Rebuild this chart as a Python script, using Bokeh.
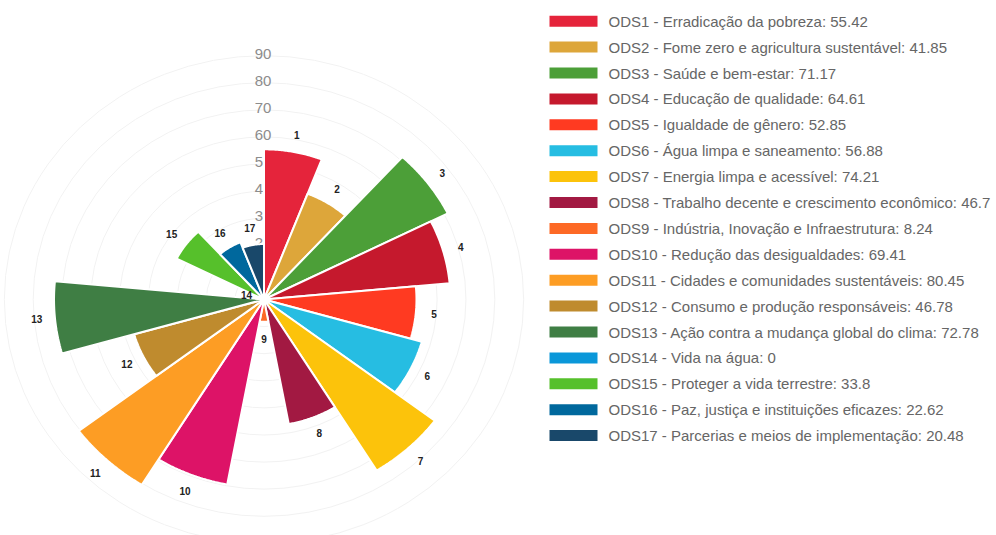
import numpy as np
from bokeh.plotting import figure
from bokeh.models import Range1d, ColumnDataSource
from bokeh.core.properties import value
from bokeh.embed import file_html
from bokeh.resources import INLINE

# ---------------- data ----------------
ods_numbers = ["1", "2", "3", "4", "5", "6", "7", "8", "9", "10",
               "11", "12", "13", "14", "15", "16", "17"]
ods_names = [
    "Erradicação da pobreza",
    "Fome zero e agricultura sustentável",
    "Saúde e bem-estar",
    "Educação de qualidade",
    "Igualdade de gênero",
    "Água limpa e saneamento",
    "Energia limpa e acessível",
    "Trabalho decente e crescimento econômico",
    "Indústria, Inovação e Infraestrutura",
    "Redução das desigualdades",
    "Cidades e comunidades sustentáveis",
    "Consumo e produção responsáveis",
    "Ação contra a mudança global do clima",
    "Vida na água",
    "Proteger a vida terrestre",
    "Paz, justiça e instituições eficazes",
    "Parcerias e meios de implementação",
]
ods_values = [55.42, 41.85, 71.17, 64.61, 52.85, 56.88, 74.21, 46.7, 8.24,
              69.41, 80.45, 46.78, 72.78, 0, 33.8, 22.62, 20.48]
ods_colors = ["#E5243B", "#DDA63A", "#4C9F38", "#C5192D", "#FF3A21",
              "#26BDE2", "#FCC30B", "#A21942", "#FD6925", "#DD1367",
              "#FD9D24", "#BF8B2E", "#3F7E44", "#0A97D9", "#56C02B",
              "#00689D", "#19486A"]
radial_ticks = [10, 20, 30, 40, 50, 60, 70, 80, 90]

# ---------------- layout constants (pixels) ----------------
W, H = 996, 535
CX, CY = 263.5, 299.0      # centre of the polar chart (px)
KX, KY = 2.885, 2.71       # px per value unit, horizontally / vertically
LABEL_OFFSET = 6.3         # value units beyond the wedge end
TICK_LABEL_DX, TICK_LABEL_DY = -1.0, 2.0   # px
LEG_SW_X, LEG_TXT_X = 573, 608
LEG_Y0, LEG_DY = 20.7, 25.9

x_range = Range1d((0 - CX) / KX, (W - CX) / KX)
y_range = Range1d(-(H - CY) / KY, CY / KY)

p = figure(width=W, height=H, x_range=x_range, y_range=y_range,
           output_backend="svg", toolbar_location=None,
           x_axis_type=None, y_axis_type=None, min_border=0,
           outline_line_color=None, background_fill_color="white",
           border_fill_color="white")
p.xgrid.visible = False
p.ygrid.visible = False

# grid circles (very faint)
p.ellipse(x=0, y=0, width=[2 * t for t in radial_ticks],
          height=[2 * t for t in radial_ticks],
          fill_color=None, line_color="#f2f2f2", line_width=1)

# radial tick labels
p.text(x=[TICK_LABEL_DX / KX] * len(radial_ticks),
       y=[t + TICK_LABEL_DY / KY for t in radial_ticks],
       text=[str(t) for t in radial_ticks],
       text_align="center", text_baseline="middle",
       text_font=value("Liberation Sans"), text_font_size="15px",
       text_color="#8c8c8c")

# wedges
n = len(ods_values)
step = 2 * np.pi / n
xs, ys, mids = [], [], []
for i, v in enumerate(ods_values):
    th = np.linspace(i * step, (i + 1) * step, 48)
    xs.append([0.0] + list(v * np.sin(th)))
    ys.append([0.0] + list(v * np.cos(th)))
    mids.append((i + 0.5) * step)

src = ColumnDataSource(dict(xs=xs, ys=ys, color=ods_colors))
p.patches("xs", "ys", source=src, fill_color="color", line_color="white",
          line_width=2)
p.scatter(x=[0], y=[0], size=9, color="white", line_color=None)

# wedge number labels
lx = [(v + LABEL_OFFSET) * np.sin(m) for v, m in zip(ods_values, mids)]
ly = [(v + LABEL_OFFSET) * np.cos(m) for v, m in zip(ods_values, mids)]
p.text(x=lx, y=ly, text=ods_numbers, text_align="center",
       text_baseline="middle", text_font=value("Liberation Sans"),
       text_font_size="10px", text_font_style="bold", text_color="#222222")

# legend
leg_labels = [f"ODS{num} - {name}: {v:g}"
              for num, name, v in zip(ods_numbers, ods_names, ods_values)]
leg_y = [(CY - (LEG_Y0 + i * LEG_DY)) / KY for i in range(n)]
p.rect(x=[(LEG_SW_X - CX) / KX] * n, y=leg_y, width=48, height=11,
       width_units="screen", height_units="screen",
       fill_color=ods_colors, line_color=None)
p.text(x=[(LEG_TXT_X - CX) / KX] * n, y=leg_y, text=leg_labels,
       text_align="left", text_baseline="middle",
       text_font=value("Liberation Sans"), text_font_size="15px",
       text_color="#666666")

open("out.html", "w").write(file_html(p, INLINE))
